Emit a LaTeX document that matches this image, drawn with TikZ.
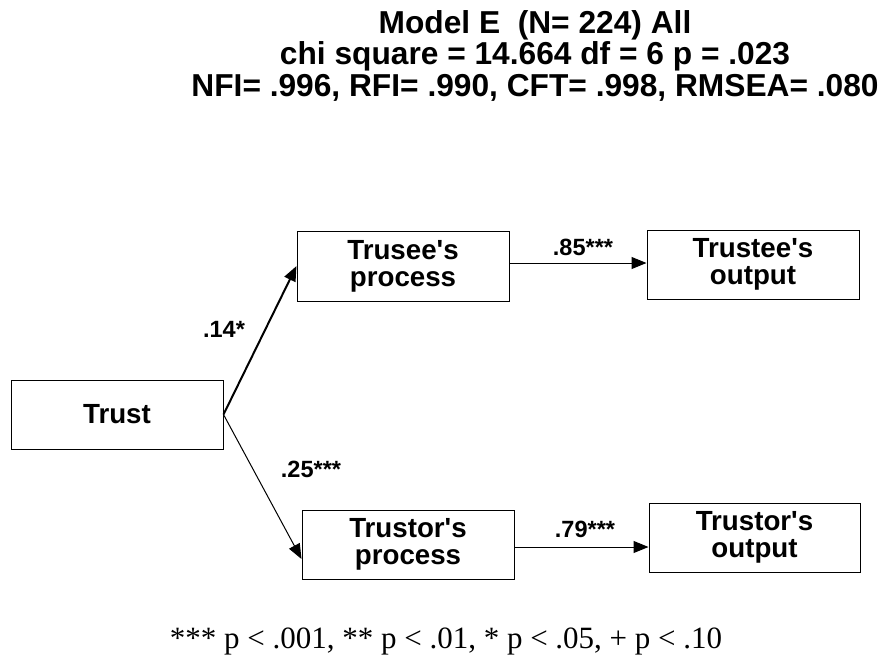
\documentclass[tikz,border=0pt]{standalone}
\usepackage{fontspec}
\setmainfont{Liberation Sans}
\newfontfamily\footfont{Liberation Serif}
\usetikzlibrary{arrows.meta,calc}
\newcommand{\apos}{\textquotesingle}
\tikzset{
  varbox/.style={draw=black, line width=1pt, minimum width=212pt, minimum height=69pt, inner sep=0pt, align=center, font=\fontsize{27.7}{27}\selectfont\bfseries},
  coef/.style={anchor=base, inner sep=0pt, font=\fontsize{23.5}{24}\selectfont\bfseries},
  titleline/.style={anchor=base, inner sep=0pt, font=\fontsize{31.7}{32}\selectfont\bfseries},
  path/.style={draw=black, line width=1pt, -{Triangle[length=15pt,width=12pt]}},
}
\begin{document}
\begin{tikzpicture}[x=1pt,y=-1pt]
\useasboundingbox (0,0) rectangle (884,656);
% title
\node[titleline] (ti1) at (535,33) {Model E\ \ (N= 224) All};
\node[titleline] (ti2) at (535,64.5) {chi square = 14.664 df = 6 p = .023};
\node[titleline] (ti3) at (535,96) {NFI= .996, RFI= .990, CFT= .998, RMSEA= .080};
% boxes
\node[varbox] (t) at (117,414.5) {Trust};
\node[varbox, minimum height=70pt] (p1) at (403,266) {Trusee\apos s\\process};
\node[varbox] (p2) at (408,544.5) {Trustor\apos s\\process};
\node[varbox] (o1) at (753,264.5) {Trustee\apos s\\output};
\node[varbox, minimum width=211pt] (o2) at (754.5,537.5) {Trustor\apos s\\output};
% connectors
\draw[path, line width=2pt] (t.east) -- (p1.west);
\draw[path] (t.east) -- ([yshift=-14.5pt]p2.west);
\draw[path] ([yshift=3pt]p1.east) -- ([yshift=3pt]p1.east -| o1.west);
\draw[path] ([yshift=-2.5pt]p2.east) -- ([yshift=-2.5pt]p2.east -| o2.west);
% coefficients
\node[coef] (c1) at (224,337) {.14*};
\node[coef] (c2) at (311,477) {.25***};
\node[coef] (c3) at (583,255) {.85***};
\node[coef] (c4) at (585,537) {.79***};
% footnote
\node[anchor=base, inner sep=0pt, font=\fontsize{31}{32}\selectfont\footfont] (fn) at (446,648) {*** p < .001, ** p < .01, * p < .05, + p < .10};
\end{tikzpicture}
\end{document}
